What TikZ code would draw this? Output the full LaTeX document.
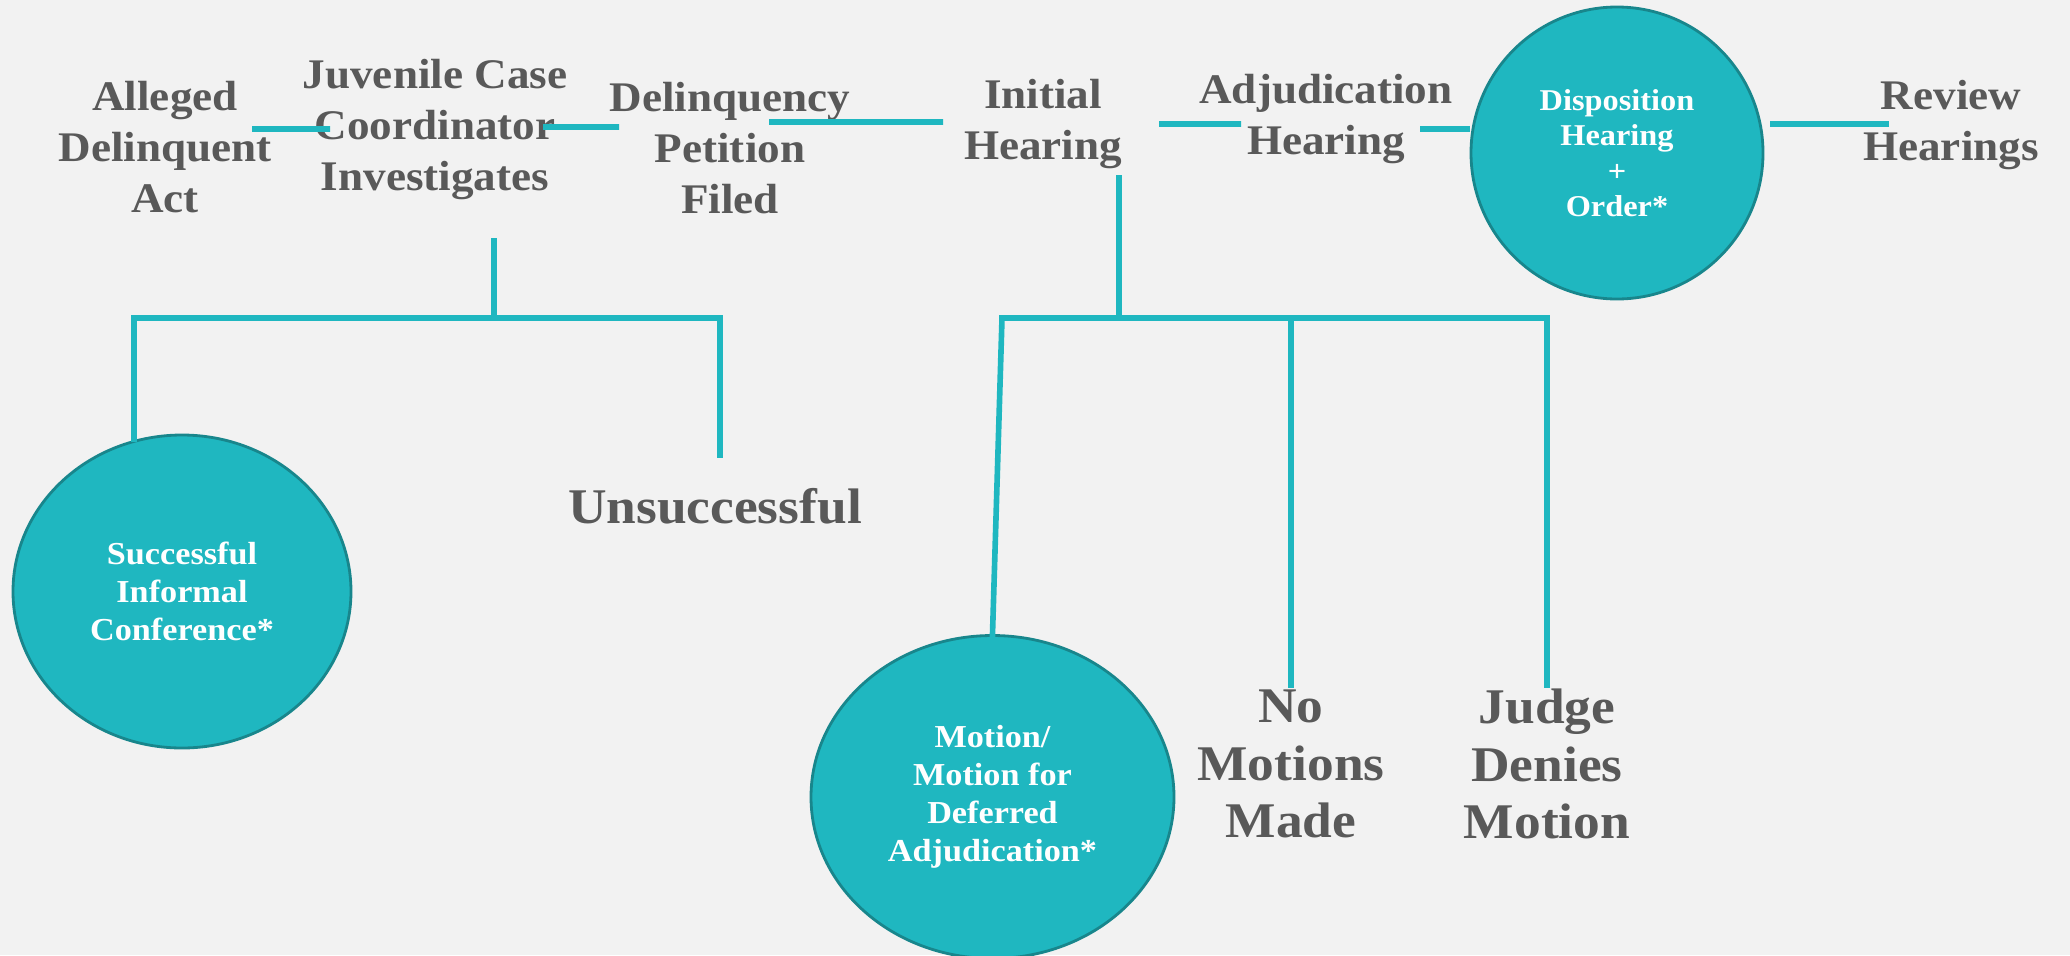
\documentclass[tikz,border=0pt]{standalone}
\usepackage{fontspec}
\setmainfont{Liberation Serif}[FakeStretch=1.07]
\usetikzlibrary{shapes}
\definecolor{bgcol}{RGB}{242,242,242}
\definecolor{tealfill}{RGB}{31,183,192}
\definecolor{tealedge}{RGB}{24,134,140}
\definecolor{greytext}{RGB}{89,89,89}

\begin{document}
\begin{tikzpicture}[
  stage/.style={align=center,inner sep=0pt,text=greytext,font=\bfseries\fontsize{12}{14.5}\selectfont},
  outcome/.style={stage,font=\bfseries\fontsize{14.2}{16.4}\selectfont},
  bubble/.style={ellipse,draw=tealedge,fill=tealfill,line width=0.8pt,text=white,align=center,inner sep=0pt,font=\bfseries\fontsize{9.1}{10.8}\selectfont},
  link/.style={draw=tealfill,line width=1.6pt},
  branch/.style={link,line cap=rect}]
\fill[bgcol] (0,0) rectangle (20.70,-9.55);
\useasboundingbox (0,0) rectangle (20.70,-9.55);
% top row
\node[stage] (act) at (1.65,-1.472) {Alleged\\Delinquent\\Act};
\node[stage] (jcc) [right of=act,node distance=2.70cm,yshift=1.79mm] {Juvenile Case\\Coordinator\\Investigates};
\node[stage] (dpf) [right of=jcc,node distance=2.95cm,yshift=-1.89mm] {Delinquency\\Petition\\Filed};
\node[stage] (ih) [right of=dpf,node distance=3.13cm,yshift=2.44mm] {Initial\\Hearing};
\node[stage] (adj) [right of=ih,node distance=2.83cm,yshift=0.5mm] {Adjudication\\Hearing};
\node[bubble,circle,minimum size=2.92cm,font=\bfseries\fontsize{8.6}{10.1}\selectfont] (disp) [right of=adj,node distance=2.91cm,yshift=-3.42mm] {Disposition\\Hearing\\+\\Order*};
\node[stage] (rev) [right of=disp,node distance=3.34cm,yshift=2.79mm] {Review\\Hearings};
% outcomes
\node[bubble,minimum width=3.38cm,minimum height=3.13cm] (succ) at (1.82,-5.915) {Successful\\Informal\\Conference*};
\node[outcome] (unsucc) at (7.15,-5.06) {Unsuccessful};
\node[bubble,minimum width=3.63cm,minimum height=3.23cm] (motion) at (9.925,-7.97) {Motion/\\Motion for\\Deferred\\Adjudication*};
\node[outcome] (no) [right of=motion,node distance=2.985cm,yshift=3.3mm] {No\\Motions\\Made};
\node[outcome] (judge) [right of=no,node distance=2.56cm] {Judge\\Denies\\Motion};
% steps
\draw[link] ([shift={(0.87,0.182)}]act.center) -- ([shift={(-1.05,0.003)}]jcc.center);
\draw[link] ([shift={(1.08,0.023)}]jcc.center) -- ([shift={(-1.11,0.212)}]dpf.center);
\draw[link] ([shift={(0.39,0.262)}]dpf.center) -- ([shift={(-1.00,0.018)}]ih.center);
\draw[link] ([shift={(1.16,-0.002)}]ih.center) -- ([shift={(-0.85,-0.052)}]adj.center);
\draw[link] ([shift={(0.94,-0.102)}]adj.center) coordinate (s5) -- (s5 -| disp.west);
\draw[link,shorten >=0.6mm] ([shift={(-0.62,0.011)}]rev.center) coordinate (s6) -- (s6 -| disp.east);
% branches
\coordinate (fork1) at (4.94,-3.18);
\coordinate (fork1l) at (1.34,-3.18);
\coordinate (fork1r) at (7.20,-3.18);
\draw[branch,shorten <=4.1mm] (fork1 |- jcc.south) -- (fork1);
\draw[branch] (fork1l) -- (fork1r);
\draw[branch,shorten >=-0.6mm] (fork1l) -- (fork1l |- succ.north);
\draw[branch,shorten >=3.2mm] (fork1r) -- (fork1r |- unsucc.north);
\coordinate (fork2) at (11.19,-3.18);
\coordinate (fork2l) at (10.02,-3.18);
\coordinate (fork2r) at (15.47,-3.18);
\draw[branch,shorten <=0.9mm] (fork2 |- ih.south) -- (fork2);
\draw[branch] (fork2l) -- (fork2r);
\draw[branch] (fork2l) -- (motion.north);
\draw[branch,shorten >=0.4mm] (no.north |- fork2) -- (no.north);
\draw[branch,shorten >=0.3mm] (fork2r) -- (judge.north);
\end{tikzpicture}
\end{document}
